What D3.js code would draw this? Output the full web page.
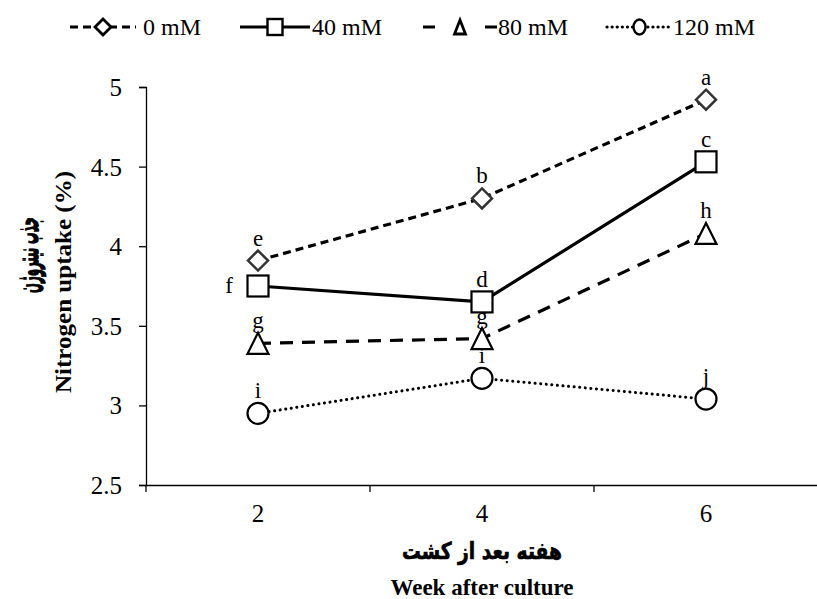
<!DOCTYPE html>
<html>
<head>
<meta charset="utf-8">
<script src="https://cdn.jsdelivr.net/npm/d3@7"></script>
<style>
  body { margin: 0; background: #fff; }
  text { font-family: "Liberation Serif", "Times New Roman", Times, serif; fill: #000; }
  .fa { font-family: "DejaVu Sans", sans-serif; font-weight: bold; stroke: #000; }
</style>
</head>
<body>
<div id="chart"></div>
<script>
// data
const weeks = ['2', '4', '6'];
const seriesNames = ['0 mM', '40 mM', '80 mM', '120 mM'];
const values0 = [3.91, 4.30, 4.92];
const values40 = [3.75, 3.65, 4.53];
const values80 = [3.39, 3.42, 4.08];
const values120 = [2.95, 3.17, 3.04];
const letters0 = ['e', 'b', 'a'];
const letters40 = ['f', 'd', 'c'];
const letters80 = ['g', 'g', 'h'];
const letters120 = ['i', 'i', 'j'];
const yTicks = [2.5, 3, 3.5, 4, 4.5, 5];

const width = 817;
const height = 599;
const margin = { left: 146, right: 0, top: 87, bottom: 114 };

const svg = d3.select('#chart')
    .append('svg')
    .attr('width', width)
    .attr('height', height);

const x = d3.scaleBand()
    .domain(weeks)
    .range([margin.left, margin.left + 224 * 3]);

const y = d3.scaleLinear()
    .domain([2.5, 5])
    .range([height - margin.bottom, margin.top]);

// styles per series
const styles = [
    { name: seriesNames[0], values: values0, letters: letters0, dash: '8,5', cap: 'butt', shape: 'diamond', stroke: '#333' },
    { name: seriesNames[1], values: values40, letters: letters40, dash: null, cap: 'butt', shape: 'square', stroke: '#000' },
    { name: seriesNames[2], values: values80, letters: letters80, dash: '13,9', cap: 'butt', shape: 'triangle', stroke: '#000' },
    { name: seriesNames[3], values: values120, letters: letters120, dash: '0.1,5.5', cap: 'round', shape: 'circle', stroke: '#000' }
];

// axes
const yAxis = d3.axisLeft(y).tickValues(yTicks).tickSize(7).tickFormat(d3.format('~g'));
const gy = svg.append('g')
    .attr('transform', `translate(${margin.left},0)`)
    .call(yAxis);
gy.attr('font-family', null);
gy.select('.domain').attr('stroke-width', 1.3);
gy.selectAll('.tick line').attr('stroke-width', 1.3);
gy.selectAll('.tick text')
    .attr('x', -24)
    .attr('dy', '0.34em')
    .style('font-size', '25px');

const xAxis = d3.axisBottom(x).tickSize(0).tickFormat(d => d);
const gx = svg.append('g')
    .attr('transform', `translate(0,${y(2.5)})`)
    .call(xAxis);
gx.attr('font-family', null);
gx.select('.domain').attr('stroke-width', 1.3);
gx.selectAll('.tick text')
    .attr('y', 37)
    .attr('dy', 0)
    .style('font-size', '25px');

// ticks between categories on the x axis
svg.append('g')
    .selectAll('line')
    .data(weeks.map(w => x(w)))
    .enter()
    .append('line')
    .attr('x1', d => d)
    .attr('x2', d => d)
    .attr('y1', y(2.5))
    .attr('y2', y(2.5) + 7)
    .attr('stroke', '#000')
    .attr('stroke-width', 1.3);

// fit a text into a box (box given in the text's own, unrotated frame)
function fitText(sel, w, h) {
    const b = sel.node().getBBox();
    const sx = w / b.width, sy = h / b.height;
    sel.attr('transform', `scale(${sx},${sy}) translate(${-b.x - b.width / 2},${-b.y - b.height / 2})`);
}

// axis titles
const midX = x('4') + x.bandwidth() / 2;
const faX = svg.append('g').attr('transform', `translate(${midX},551)`);
const faXText = faX.append('text')
    .attr('class', 'fa')
    .style('font-size', '20px')
    .style('stroke-width', '0.6px')
    .text('هفته بعد از کشت');
fitText(faXText, 160, 28);

svg.append('text')
    .attr('x', midX)
    .attr('y', 595)
    .attr('text-anchor', 'middle')
    .style('font-size', '23px')
    .style('font-weight', 'bold')
    .text('Week after culture');

svg.append('text')
    .attr('transform', 'translate(71,282) rotate(-90)')
    .attr('text-anchor', 'middle')
    .attr('textLength', 222)
    .attr('lengthAdjust', 'spacingAndGlyphs')
    .style('font-size', '23px')
    .style('font-weight', 'bold')
    .text('Nitrogen uptake (%)');

const faY = svg.append('g').attr('transform', 'translate(27,255) rotate(-90)');
const faYText = faY.append('text')
    .attr('class', 'fa')
    .style('font-size', '20px')
    .style('stroke-width', '0.9px')
    .text('جذب نیتروژن');
fitText(faYText, 76, 36);

// marker drawing
function drawMarker(g, shape, cx, cy, stroke, r) {
    if (shape === 'diamond') {
        g.append('path')
            .attr('d', `M${cx},${cy - r}L${cx + r},${cy}L${cx},${cy + r}L${cx - r},${cy}Z`)
            .attr('fill', '#fff').attr('stroke', stroke).attr('stroke-width', 2.5);
    } else if (shape === 'square') {
        g.append('rect')
            .attr('x', cx - r).attr('y', cy - r).attr('width', 2 * r).attr('height', 2 * r)
            .attr('fill', '#fff').attr('stroke', stroke).attr('stroke-width', 2.2);
    } else if (shape === 'triangle') {
        g.append('path')
            .attr('d', `M${cx},${cy - r}L${cx + r},${cy + r}L${cx - r},${cy + r}Z`)
            .attr('fill', '#fff').attr('stroke', stroke).attr('stroke-width', 2.2);
    } else {
        g.append('circle')
            .attr('cx', cx).attr('cy', cy).attr('r', r)
            .attr('fill', '#fff').attr('stroke', stroke).attr('stroke-width', 2.2);
    }
}

const cx = d => x(d) + x.bandwidth() / 2;
const line = d3.line()
    .x(d => cx(d.week))
    .y(d => y(d.value));

// series lines, markers and letters
styles.forEach(s => {
    const pts = weeks.map((w, i) => ({ week: w, value: s.values[i], letter: s.letters[i] }));
    const g = svg.append('g');
    g.append('path')
        .datum(pts)
        .attr('d', line)
        .attr('fill', 'none')
        .attr('stroke', '#000')
        .attr('stroke-width', s.shape === 'circle' ? 3 : 3.2)
        .attr('stroke-linecap', s.cap)
        .attr('stroke-dasharray', s.dash);
    pts.forEach(p => drawMarker(g, s.shape, cx(p.week), y(p.value), s.stroke, s.shape === 'diamond' ? 10 : 10.5));
    g.selectAll('text')
        .data(pts)
        .enter()
        .append('text')
        .attr('x', (d, i) => (s.shape === 'square' && i === 0) ? cx(d.week) - 29 : cx(d.week))
        .attr('y', (d, i) => (s.shape === 'square' && i === 0) ? y(d.value) + 7 : y(d.value) - 15)
        .attr('text-anchor', 'middle')
        .style('font-size', '23px')
        .text(d => d.letter);
});

// legend
const legendItems = [
    { x0: 70, x1: 136, tx: 143, dash: '8,5' },
    { x0: 240, x1: 310, tx: 312, dash: null },
    { x0: 423, x1: 497, tx: 498, dash: '12,50' },
    { x0: 607, x1: 672, tx: 673, dash: '0.1,5' }
];
const ly = 27;
const legend = svg.append('g');
styles.forEach((s, i) => {
    const it = legendItems[i];
    legend.append('line')
        .attr('x1', it.x0).attr('x2', it.x1)
        .attr('y1', ly).attr('y2', ly)
        .attr('stroke', '#000')
        .attr('stroke-width', 3.2)
        .attr('stroke-linecap', s.cap)
        .attr('stroke-dasharray', it.dash);
    const mx = (it.x0 + it.x1) / 2;
    const lg = legend.append('g');
    if (s.shape === 'diamond') {
        lg.append('path').attr('d', `M${mx},${ly - 8}L${mx + 8},${ly}L${mx},${ly + 8}L${mx - 8},${ly}Z`)
            .attr('fill', '#fff').attr('stroke', '#000').attr('stroke-width', 2.8);
    } else if (s.shape === 'square') {
        lg.append('rect').attr('x', mx - 7.5).attr('y', ly - 8).attr('width', 15).attr('height', 16)
            .attr('fill', '#fff').attr('stroke', '#000').attr('stroke-width', 2.4);
    } else if (s.shape === 'triangle') {
        lg.append('path').attr('d', `M${mx},${ly - 7}L${mx + 5.5},${ly + 7}L${mx - 5.5},${ly + 7}Z`)
            .attr('fill', '#fff').attr('stroke', '#000').attr('stroke-width', 2.8);
    } else {
        lg.append('ellipse').attr('cx', mx).attr('cy', ly).attr('rx', 6).attr('ry', 7.5)
            .attr('fill', '#fff').attr('stroke', '#000').attr('stroke-width', 2.4);
    }
    legend.append('text')
        .attr('x', it.tx)
        .attr('y', ly + 8)
        .style('font-size', '24px')
        .text(s.name);
});
</script>
</body>
</html>
